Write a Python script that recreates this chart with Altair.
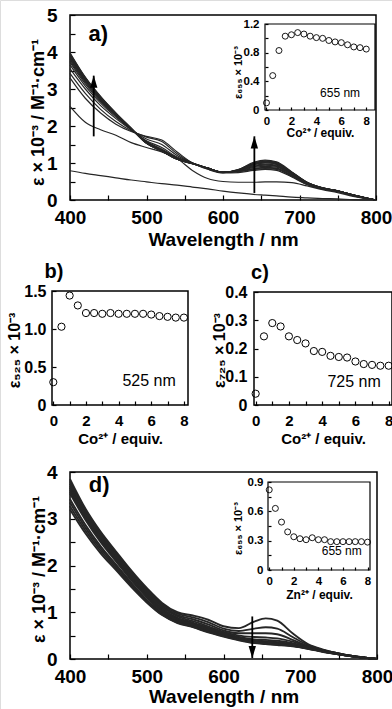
import altair as alt
import pandas as pd

W, H = 392, 709
FONT = "Liberation Sans"

# ------------------------------------------------------------------ data
WL = [400, 420, 440, 460, 480, 500, 520, 540, 560, 580, 600,
      620, 640, 655, 670, 690, 710, 730, 750, 770, 800]

# a) Co2+ titration, eps x 10^-3 (one list per equivalent)
A_EQ = [0, 0.5, 1.0, 1.5, 2.0, 2.5, 3.0, 3.5, 4.0, 4.5, 5.0, 5.5, 6.0, 6.5, 7.0, 7.5, 8.0]
A_SPEC = [
    [0.79, 0.72, 0.66, 0.60, 0.54, 0.49, 0.44, 0.40, 0.35, 0.30, 0.24, 0.19, 0.15, 0.13, 0.11, 0.08, 0.06, 0.04, 0.03, 0.01, 0.00],
    [2.53, 2.10, 1.90, 1.75, 1.55, 1.42, 1.30, 1.12, 0.80, 0.58, 0.50, 0.48, 0.48, 0.49, 0.49, 0.47, 0.38, 0.28, 0.20, 0.10, 0.00],
    [3.30, 2.75, 2.35, 2.05, 1.85, 1.72, 1.62, 1.30, 1.00, 0.83, 0.73, 0.74, 0.80, 0.83, 0.80, 0.62, 0.42, 0.30, 0.24, 0.13, 0.00],
    [3.42, 2.88, 2.45, 2.12, 1.87, 1.70, 1.58, 1.25, 1.00, 0.84, 0.74, 0.80, 0.97, 1.03, 0.98, 0.72, 0.46, 0.32, 0.25, 0.13, 0.00],
    [3.55, 3.00, 2.55, 2.20, 1.90, 1.65, 1.50, 1.20, 1.00, 0.85, 0.74, 0.81, 0.99, 1.05, 1.00, 0.74, 0.47, 0.32, 0.25, 0.13, 0.00],
    [3.65, 3.08, 2.62, 2.24, 1.90, 1.60, 1.42, 1.16, 1.00, 0.86, 0.75, 0.82, 1.02, 1.08, 1.03, 0.76, 0.48, 0.33, 0.25, 0.14, 0.00],
    [3.72, 3.14, 2.66, 2.27, 1.91, 1.58, 1.38, 1.14, 1.00, 0.86, 0.75, 0.82, 1.00, 1.06, 1.01, 0.75, 0.48, 0.33, 0.25, 0.14, 0.00],
    [3.76, 3.18, 2.69, 2.29, 1.92, 1.57, 1.36, 1.13, 1.00, 0.86, 0.75, 0.81, 0.98, 1.03, 0.99, 0.74, 0.47, 0.33, 0.25, 0.14, 0.00],
    [3.80, 3.21, 2.71, 2.30, 1.92, 1.56, 1.35, 1.12, 0.99, 0.86, 0.75, 0.81, 0.96, 1.01, 0.97, 0.73, 0.47, 0.33, 0.25, 0.14, 0.00],
    [3.83, 3.23, 2.73, 2.31, 1.92, 1.55, 1.34, 1.12, 0.99, 0.86, 0.75, 0.80, 0.95, 1.00, 0.96, 0.72, 0.46, 0.32, 0.25, 0.13, 0.00],
    [3.86, 3.25, 2.74, 2.32, 1.93, 1.55, 1.34, 1.11, 0.99, 0.86, 0.75, 0.80, 0.93, 0.97, 0.94, 0.71, 0.46, 0.32, 0.24, 0.13, 0.00],
    [3.88, 3.27, 2.75, 2.33, 1.93, 1.54, 1.33, 1.11, 0.99, 0.86, 0.75, 0.79, 0.91, 0.95, 0.92, 0.70, 0.45, 0.32, 0.24, 0.13, 0.00],
    [3.90, 3.28, 2.76, 2.33, 1.93, 1.54, 1.33, 1.11, 0.99, 0.86, 0.75, 0.79, 0.90, 0.94, 0.91, 0.69, 0.45, 0.31, 0.24, 0.13, 0.00],
    [3.92, 3.29, 2.77, 2.34, 1.93, 1.54, 1.33, 1.10, 0.98, 0.86, 0.75, 0.78, 0.88, 0.91, 0.89, 0.68, 0.44, 0.31, 0.24, 0.13, 0.00],
    [3.94, 3.30, 2.78, 2.34, 1.93, 1.53, 1.32, 1.10, 0.98, 0.86, 0.75, 0.78, 0.85, 0.88, 0.86, 0.66, 0.43, 0.30, 0.23, 0.12, 0.00],
    [3.96, 3.31, 2.79, 2.35, 1.94, 1.53, 1.32, 1.10, 0.98, 0.86, 0.75, 0.77, 0.84, 0.87, 0.85, 0.65, 0.43, 0.30, 0.23, 0.12, 0.00],
    [3.98, 3.32, 2.80, 2.35, 1.94, 1.53, 1.32, 1.10, 0.98, 0.86, 0.75, 0.77, 0.82, 0.85, 0.83, 0.64, 0.42, 0.30, 0.23, 0.12, 0.00],
]

EQ = [0, 0.5, 1.0, 1.5, 2.0, 2.5, 3.0, 3.5, 4.0, 4.5, 5.0, 5.5, 6.0, 6.5, 7.0, 7.5, 8.0]
A_655 = [0.10, 0.48, 0.83, 1.03, 1.05, 1.08, 1.06, 1.03, 1.01, 1.00, 0.97, 0.95, 0.94, 0.91, 0.88, 0.87, 0.85]
B_525 = [0.30, 1.03, 1.44, 1.31, 1.21, 1.21, 1.20, 1.21, 1.20, 1.20, 1.20, 1.20, 1.19, 1.17, 1.16, 1.15, 1.15]
C_725 = [0.040, 0.243, 0.290, 0.278, 0.243, 0.230, 0.218, 0.191, 0.188, 0.174, 0.170, 0.168, 0.154, 0.145, 0.142, 0.139, 0.139]

# d) Zn2+ titration spectra
D_EQ = [0, 0.5, 1.0, 1.5, 2.0, 2.5, 3.0, 4.0, 5.0, 6.0, 7.0, 8.0]
D_SPEC = [
    [3.85, 3.22, 2.72, 2.30, 1.89, 1.52, 1.20, 1.00, 0.93, 0.84, 0.70, 0.66, 0.80, 0.87, 0.82, 0.55, 0.32, 0.20, 0.12, 0.06, 0.00],
    [3.80, 3.18, 2.69, 2.27, 1.86, 1.49, 1.17, 0.97, 0.89, 0.79, 0.65, 0.60, 0.65, 0.68, 0.65, 0.47, 0.30, 0.19, 0.12, 0.06, 0.00],
    [3.75, 3.14, 2.65, 2.24, 1.83, 1.46, 1.14, 0.94, 0.85, 0.74, 0.61, 0.55, 0.55, 0.55, 0.53, 0.41, 0.28, 0.19, 0.12, 0.06, 0.00],
    [3.70, 3.10, 2.62, 2.21, 1.80, 1.43, 1.11, 0.91, 0.81, 0.70, 0.58, 0.50, 0.47, 0.46, 0.44, 0.37, 0.27, 0.18, 0.11, 0.06, 0.00],
    [3.66, 3.07, 2.59, 2.18, 1.77, 1.40, 1.08, 0.88, 0.78, 0.67, 0.56, 0.47, 0.42, 0.41, 0.39, 0.34, 0.26, 0.18, 0.11, 0.06, 0.00],
    [3.62, 3.04, 2.56, 2.15, 1.74, 1.37, 1.05, 0.86, 0.76, 0.65, 0.54, 0.46, 0.40, 0.38, 0.36, 0.32, 0.25, 0.17, 0.11, 0.05, 0.00],
    [3.58, 3.01, 2.53, 2.12, 1.71, 1.35, 1.03, 0.84, 0.74, 0.63, 0.53, 0.45, 0.39, 0.37, 0.35, 0.31, 0.25, 0.17, 0.11, 0.05, 0.00],
    [3.54, 2.98, 2.50, 2.09, 1.68, 1.32, 1.01, 0.82, 0.73, 0.62, 0.52, 0.44, 0.38, 0.36, 0.34, 0.30, 0.24, 0.17, 0.10, 0.05, 0.00],
    [3.42, 2.87, 2.41, 2.02, 1.63, 1.27, 0.98, 0.80, 0.71, 0.60, 0.51, 0.43, 0.37, 0.35, 0.33, 0.29, 0.23, 0.16, 0.10, 0.05, 0.00],
    [3.35, 2.81, 2.36, 1.98, 1.60, 1.25, 0.96, 0.79, 0.70, 0.59, 0.50, 0.42, 0.36, 0.34, 0.32, 0.28, 0.23, 0.16, 0.10, 0.05, 0.00],
    [3.27, 2.75, 2.31, 1.94, 1.57, 1.23, 0.95, 0.78, 0.69, 0.58, 0.49, 0.41, 0.35, 0.33, 0.31, 0.28, 0.22, 0.16, 0.10, 0.05, 0.00],
    [3.20, 2.69, 2.26, 1.90, 1.54, 1.21, 0.94, 0.77, 0.68, 0.57, 0.48, 0.40, 0.34, 0.32, 0.30, 0.27, 0.22, 0.15, 0.10, 0.05, 0.00],
]
D_655 = [0.82, 0.63, 0.49, 0.39, 0.34, 0.32, 0.31, 0.33, 0.31, 0.31, 0.29, 0.29, 0.29, 0.29, 0.29, 0.29, 0.285]

# axis ticks / labels
WL_LABELS = [400, 500, 600, 700, 800]
WL_TICKS = [400, 450, 500, 550, 600, 650, 700, 750, 800]
EQ_LABELS = [0, 2, 4, 6, 8]
EQ_TICKS = [0, 1, 2, 3, 4, 5, 6, 7, 8]
A_YLABELS = [0, 1, 2, 3, 4, 5]
A_YTICKS = [0, 0.5, 1, 1.5, 2, 2.5, 3, 3.5, 4, 4.5, 5]
D_YLABELS = [0, 1, 2, 3, 4]
D_YTICKS = [0, 0.5, 1, 1.5, 2, 2.5, 3, 3.5, 4]
B_YLABELS = [0, 0.5, 1.0, 1.5]
C_YLABELS = [0, 0.1, 0.2, 0.3, 0.4]
IA_YLABELS = [0, 0.4, 0.8, 1.2]
IA_YTICKS = [0, 0.2, 0.4, 0.6, 0.8, 1.0, 1.2]
ID_YLABELS = [0, 0.3, 0.6, 0.9]
ID_YTICKS = [0, 0.15, 0.3, 0.45, 0.6, 0.75, 0.9]

# ------------------------------------------------------------------ layout (pixels)
PA = dict(xd=[400, 800], xr=[70, 376], yd=[0, 5], yr=[200, 15])
IA = dict(xd=[-0.12, 8.7], xr=[265, 375], yd=[0, 1.2], yr=[110, 24])
PB = dict(xd=[-0.08, 8.25], xr=[52, 188], yd=[0, 1.5], yr=[405, 291])
PC = dict(xd=[-0.1, 8.2], xr=[254, 392], yd=[0, 0.4], yr=[405, 292])
PD = dict(xd=[400, 800], xr=[70, 377], yd=[0, 4], yr=[659, 472])
ID = dict(xd=[-0.1, 8.2], xr=[268, 370], yd=[0, 0.9], yr=[570, 482])

DEC1 = "datum.value == 0 ? '0' : format(datum.value, '.1f')"
INK = "#262626"


def xsc(p):
    return alt.Scale(domain=p["xd"], range=p["xr"], nice=False, zero=False)


def ysc(p):
    return alt.Scale(domain=p["yd"], range=p["yr"], nice=False, zero=False)


def frame(p, xt, yt, sw, tl):
    df = pd.DataFrame({"x0": [p["xd"][0]], "x1": [p["xd"][1]],
                       "y0": [p["yd"][0]], "y1": [p["yd"][1]]})
    tk = dict(labels=False, domain=False, grid=False, ticks=True, tickSize=tl,
              tickWidth=1.2, tickColor="black", title=None)
    return alt.Chart(df).mark_rect(fillOpacity=0, stroke="black", strokeWidth=sw).encode(
        x=alt.X("x0:Q", scale=xsc(p),
                axis=alt.Axis(orient="top", offset=-p["yr"][0], values=xt, **tk)),
        x2="x1",
        y=alt.Y("y0:Q", scale=ysc(p),
                axis=alt.Axis(orient="right", offset=p["xr"][0] - W, values=yt, **tk)),
        y2="y1",
    )


def xlab(p, vals, size, pad, title, tsize, ty, expr=None):
    kw = dict(orient="bottom", offset=p["yr"][0] - H, values=vals, ticks=False, tickSize=0,
              domain=False, grid=False, labelFont=FONT, labelFontSize=size,
              labelFontWeight="bold", labelColor="black", labelPadding=pad,
              labelFlush=False, labelOverlap=False, title=title, titleFont=FONT,
              titleFontSize=tsize, titleFontWeight="bold", titleColor="black",
              titleY=ty, titleBaseline="alphabetic")
    if expr:
        kw["labelExpr"] = expr
    return alt.Axis(**kw)


def ylab(p, vals, size, pad, title, tsize, tx, ty, expr=None):
    kw = dict(orient="left", offset=-p["xr"][0], values=vals, ticks=False, tickSize=0,
              domain=False, grid=False, labelFont=FONT, labelFontSize=size,
              labelFontWeight="bold", labelColor="black", labelPadding=pad,
              labelFlush=False, labelOverlap=False, title=title, titleFont=FONT,
              titleFontSize=tsize, titleFontWeight="bold", titleColor="black",
              titleX=tx, titleY=ty, titleAngle=270, titleBaseline="middle",
              titleAlign="center")
    if expr:
        kw["labelExpr"] = expr
    return alt.Axis(**kw)


def spectra(p, eqs, spec, xax, yax, sw):
    rows = [(w, v, e) for e, s in zip(eqs, spec) for w, v in zip(WL, s)]
    df = pd.DataFrame(rows, columns=["wl", "eps", "eq"])
    return alt.Chart(df).mark_line(interpolate="monotone", color=INK, strokeWidth=sw).encode(
        x=alt.X("wl:Q", scale=xsc(p), axis=xax),
        y=alt.Y("eps:Q", scale=ysc(p), axis=yax),
        detail="eq:N",
    )


def points(p, xs, ys, size, sw, xax, yax):
    df = pd.DataFrame({"x": xs, "y": ys})
    return alt.Chart(df).mark_point(shape="circle", filled=False, color="black",
                                    size=size, strokeWidth=sw, opacity=1).encode(
        x=alt.X("x:Q", scale=xsc(p), axis=xax),
        y=alt.Y("y:Q", scale=ysc(p), axis=yax),
    )


def label(p, x, y, txt, size, weight="normal"):
    df = pd.DataFrame({"x": [x], "y": [y], "t": [txt]})
    return alt.Chart(df).mark_text(font=FONT, fontSize=size, fontWeight=weight, color="black",
                                   align="center", baseline="middle").encode(
        x=alt.X("x:Q", scale=xsc(p), axis=None),
        y=alt.Y("y:Q", scale=ysc(p), axis=None),
        text="t:N",
    )


UP = "M0,-1L0.6,1L-0.6,1Z"
DOWN = "M0,1L0.6,-1L-0.6,-1Z"


def arrow(p, x, y0, y1, up=True):
    df = pd.DataFrame({"x": [x], "y0": [y0], "y1": [y1]})
    base = alt.Chart(df)
    rule = base.mark_rule(color="black", strokeWidth=1.8).encode(
        x=alt.X("x:Q", scale=xsc(p), axis=None),
        y=alt.Y("y0:Q", scale=ysc(p), axis=None),
        y2="y1",
    )
    head = base.mark_point(shape=UP if up else DOWN, filled=True, color="black", size=150,
                           opacity=1, yOffset=6 if up else -6).encode(
        x=alt.X("x:Q", scale=xsc(p), axis=None),
        y=alt.Y("y1:Q", scale=ysc(p), axis=None),
    )
    return [rule, head]


EPS_MAIN = "ε × 10⁻³ / M⁻¹·cm⁻¹"
layers = []

# ---------------- panel a
layers.append(frame(PA, WL_TICKS, A_YTICKS, 1.5, 5))
layers.append(spectra(PA, A_EQ, A_SPEC,
                      xlab(PA, WL_LABELS, 19, 8, "Wavelength / nm", 19, 45),
                      ylab(PA, A_YLABELS, 19, 13, EPS_MAIN, 18, -32, 112), 1.2))
layers += arrow(PA, 431, 1.72, 3.36, True)
layers += arrow(PA, 641, 0.19, 1.72, True)
layers.append(label(PA, 437, 4.49, "a)", 22, "bold"))
# inset a
layers.append(frame(IA, EQ_TICKS, IA_YTICKS, 1.2, 3))
layers.append(points(IA, EQ, A_655, 36, 0.9,
                     xlab(IA, EQ_LABELS, 11.5, 5, "Co²⁺ / equiv.", 12, 26),
                     ylab(IA, IA_YLABELS, 11.5, 6, "ε₆₅₅ × 10⁻³", 11, -27, 72, DEC1)))
layers.append(label(IA, 5.9, 0.24, "655 nm", 12))

# ---------------- panel b
layers.append(frame(PB, EQ_TICKS, B_YLABELS, 1.5, 4))
layers.append(points(PB, EQ, B_525, 52, 1.0,
                     xlab(PB, EQ_LABELS, 15, 8, "Co²⁺ / equiv.", 15, 38),
                     ylab(PB, B_YLABELS, 16, 6, "ε₅₂₅ × 10⁻³", 16, -38, 350, DEC1)))
layers.append(label(PB, 0.04, 1.75, "b)", 20, "bold"))
layers.append(label(PB, 5.87, 0.31, "525 nm", 16))

# ---------------- panel c
layers.append(frame(PC, EQ_TICKS, C_YLABELS, 1.5, 4))
layers.append(points(PC, EQ, C_725, 52, 1.0,
                     xlab(PC, EQ_LABELS, 15, 8, "Co²⁺ / equiv.", 15, 38),
                     ylab(PC, C_YLABELS, 16, 7, "ε₇₂₅ × 10⁻³", 16, -35, 350, DEC1)))
layers.append(label(PC, 0.26, 0.467, "c)", 20, "bold"))
layers.append(label(PC, 5.92, 0.082, "725 nm", 16))

# ---------------- panel d
layers.append(frame(PD, WL_TICKS, D_YTICKS, 1.5, 5))
layers.append(spectra(PD, D_EQ, D_SPEC,
                      xlab(PD, WL_LABELS, 19, 8, "Wavelength / nm", 19, 43),
                      ylab(PD, D_YLABELS, 19, 13, EPS_MAIN, 18, -31, 569), 1.9))
layers += arrow(PD, 637.5, 0.91, 0.02, False)
layers.append(label(PD, 438, 3.72, "d)", 22, "bold"))
# inset d
layers.append(frame(ID, EQ_TICKS, ID_YTICKS, 1.2, 3))
layers.append(points(ID, EQ, D_655, 36, 0.9,
                     xlab(ID, EQ_LABELS, 11.5, 5, "Zn²⁺ / equiv.", 12, 28),
                     ylab(ID, ID_YLABELS, 11.5, 5, "ε₆₅₅ × 10⁻³", 11, -30, 528, DEC1)))
layers.append(label(ID, 5.9, 0.19, "655 nm", 12))

chart = (
    alt.layer(*layers)
    .resolve_scale(x="independent", y="independent")
    .resolve_axis(x="independent", y="independent")
    .properties(width=W, height=H, padding=0,
                autosize=alt.AutoSizeParams(type="none"))
    .configure_view(stroke=None)
    .configure(font=FONT, background="white")
)

chart.save("out.html", embed_options={"renderer": "svg", "actions": False})
